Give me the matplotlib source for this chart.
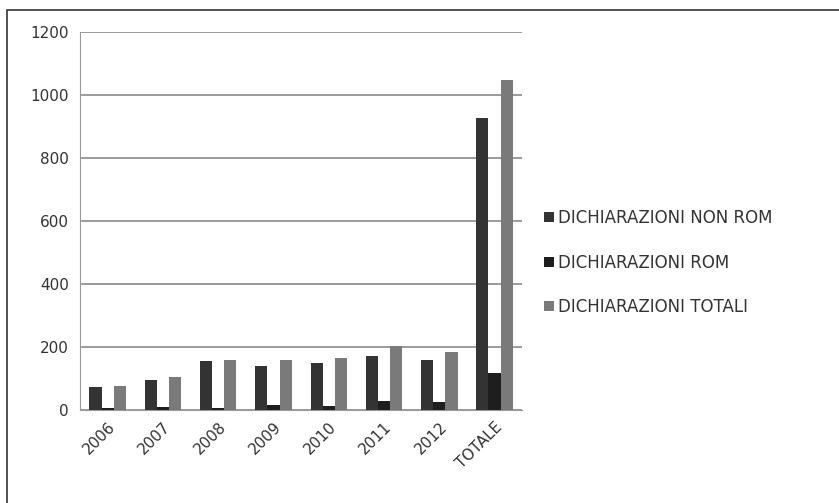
import numpy as np
import matplotlib.pyplot as plt
from matplotlib.patches import Rectangle

categories = ["2006", "2007", "2008", "2009", "2010", "2011", "2012", "TOTALE"]
non_rom = [73, 95, 155, 140, 150, 172, 160, 927]
rom = [5, 10, 5, 15, 12, 30, 25, 117]
totali = [75, 105, 158, 158, 165, 203, 185, 1047]
series_names = ["DICHIARAZIONI NON ROM", "DICHIARAZIONI ROM", "DICHIARAZIONI TOTALI"]
yticks = [0, 200, 400, 600, 800, 1000, 1200]

fig = plt.figure(figsize=(8.39, 5.03), dpi=100)
ax = fig.add_axes([0.0954, 0.185, 0.527, 0.751])

x = np.arange(len(categories))
w = 0.22
colors = ["#333333", "#1e1e1e", "#7a7a7a"]
for i, (vals, name) in enumerate(zip([non_rom, rom, totali], series_names)):
    ax.bar(x + (i - 1) * w, vals, w, color=colors[i], label=name, zorder=3)

ax.set_xlim(-0.5, len(categories) - 0.5)
ax.set_ylim(0, 1200)
ax.set_yticks(yticks)
ax.set_xticks(x)
ax.set_xticklabels(categories, rotation=45, ha="right", rotation_mode="anchor")
ax.tick_params(axis="both", labelsize=11, colors="#333333", length=0, pad=8)
ax.tick_params(axis="x", pad=7)
ax.grid(axis="y", color="#8a8a8a", linewidth=1.2, zorder=0)
for s in ["top", "right"]:
    ax.spines[s].set_visible(False)
ax.spines["left"].set_color("#9a9a9a")
ax.spines["bottom"].set_color("#9a9a9a")

ax.legend(loc="center left", bbox_to_anchor=(1.035, 0.39), frameon=False,
          fontsize=12, handlelength=0.55, handleheight=0.55, handletextpad=0.25,
          labelspacing=1.6, labelcolor="#333333", borderaxespad=0)

fig.patches.append(Rectangle((7 / 839, -0.1), 1.0, (503 - 10) / 503 + 0.1,
                             transform=fig.transFigure, fill=False,
                             edgecolor="#333333", linewidth=1.2))

plt.savefig("out.png", dpi=100)
